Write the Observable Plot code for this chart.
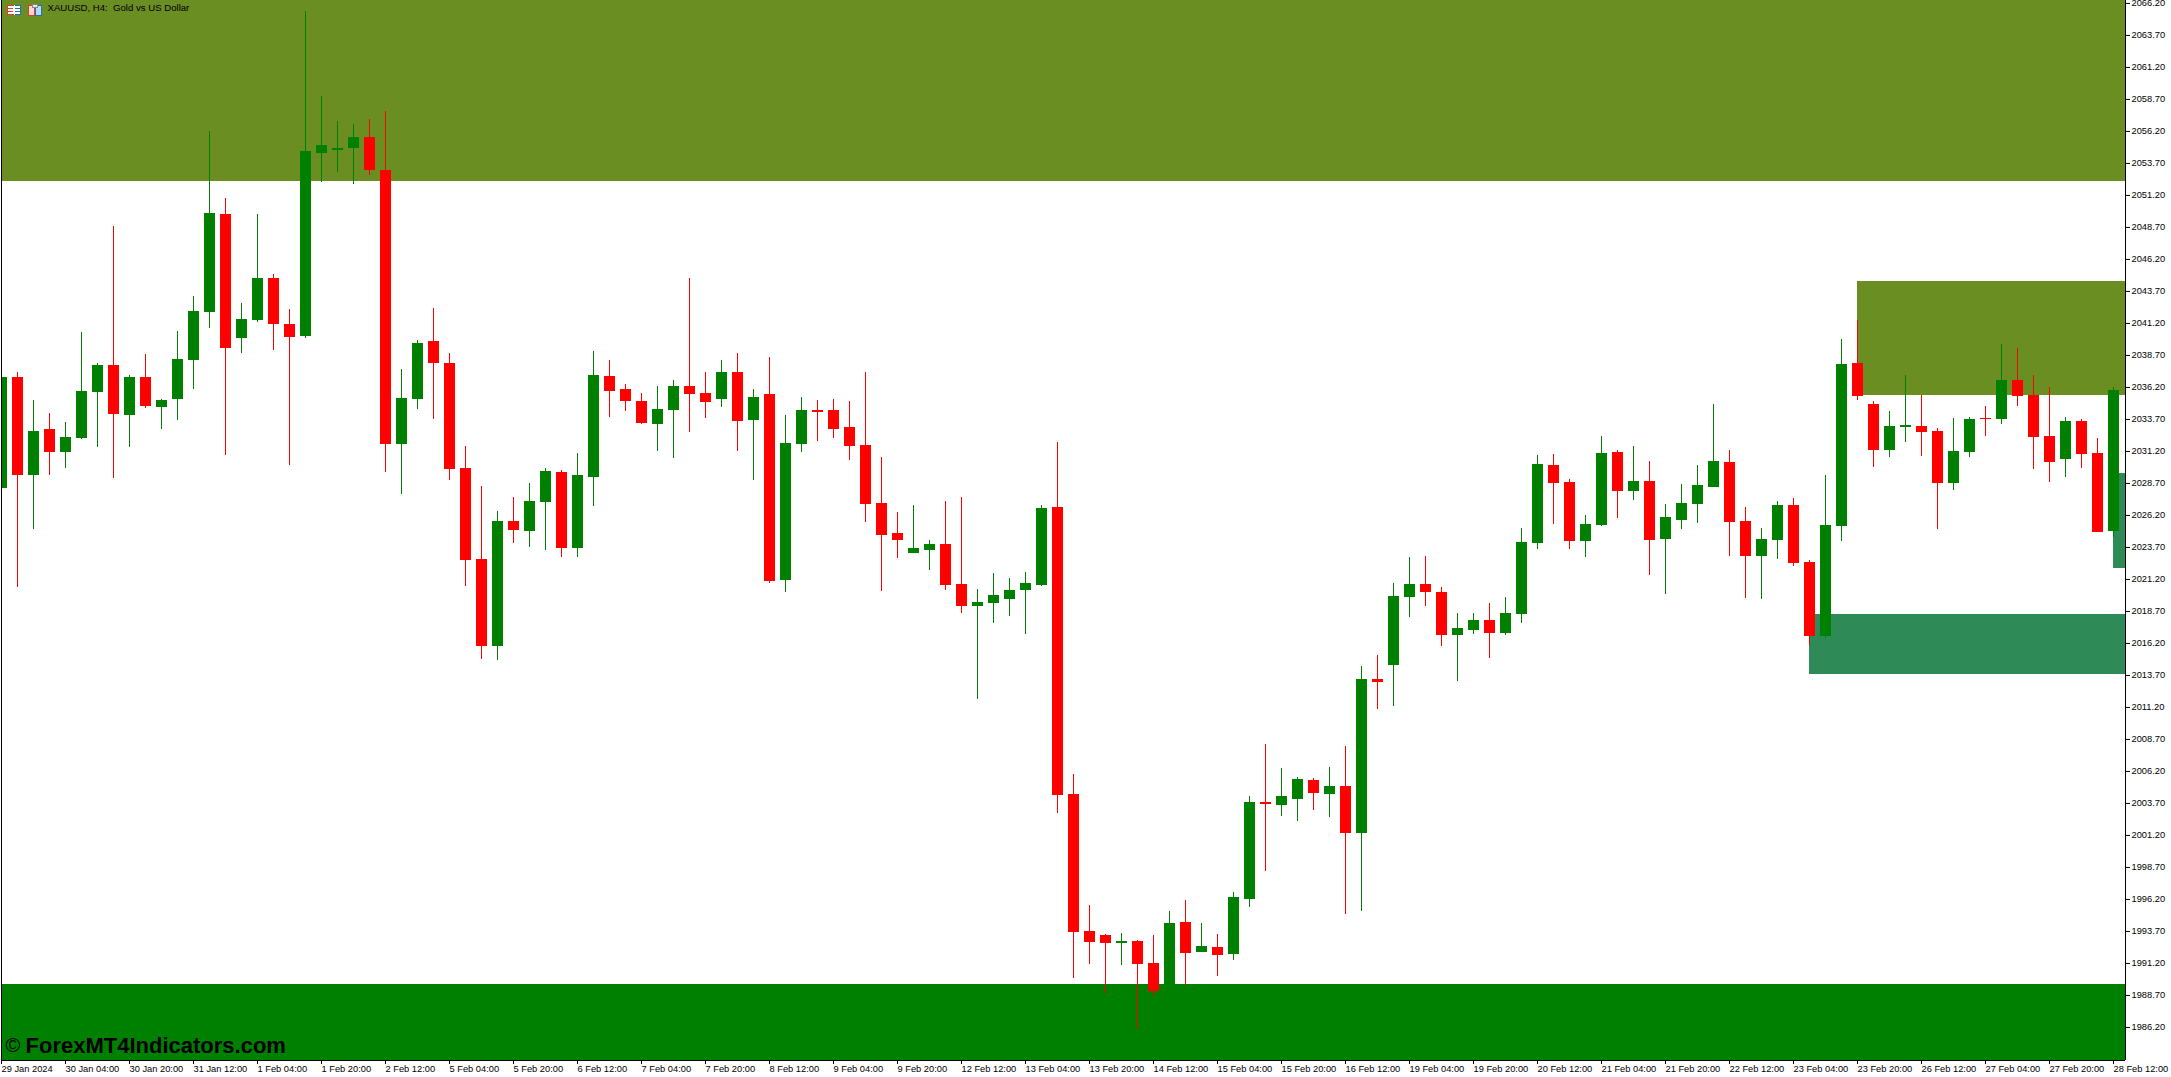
<!DOCTYPE html>
<html>
<head>
<meta charset="utf-8">
<style>
html,body{margin:0;padding:0;background:#fff;overflow:hidden}
#wrap{position:relative;width:2171px;height:1077px}
#wrap svg{display:block}
#icons{position:absolute;left:0;top:0}
</style>
<script src="https://cdn.jsdelivr.net/npm/d3@7"></script>
<script src="https://cdn.jsdelivr.net/npm/@observablehq/plot@0.6"></script>
</head>
<body>
<div id="wrap"></div>
<script>
const chartTitle = "XAUUSD, H4:  Gold vs US Dollar";
const watermark = "ForexMT4Indicators.com";

const open = [
2028.31,2036.97,2029.36,2032.91,2031.13,2032.21,2035.81,2037.91,2034.01,2036.97,
2034.63,2035.25,2038.32,2042.06,2049.72,2040.04,2041.44,2044.72,2041.11,2040.17,
2054.48,2054.70,2054.86,2055.72,2053.14,2031.75,2035.25,2039.80,2038.07,2029.87,
2022.76,2015.96,2025.73,2024.95,2027.21,2029.55,2023.61,2029.16,2037.05,2036.04,
2035.10,2033.30,2034.40,2036.27,2035.72,2035.26,2037.36,2033.61,2035.65,2021.11,
2031.74,2034.40,2034.40,2033.07,2031.66,2027.13,2024.79,2023.22,2023.46,2023.93,
2020.80,2019.08,2019.32,2019.63,2020.33,2020.72,2026.82,2004.40,1993.70,1993.38,
1992.76,1992.92,1991.20,1989.01,1994.40,1992.06,1992.45,1991.90,1996.20,2003.77,
2003.54,2004.01,2005.49,2004.40,2005.02,2001.35,2013.38,2014.48,2019.79,2020.81,
2020.18,2016.82,2017.21,2017.99,2016.98,2018.46,2024.01,2030.10,2028.77,2024.17,
2025.42,2031.12,2028.07,2028.85,2024.32,2025.81,2027.06,2028.38,2030.34,2025.73,
2022.99,2024.24,2026.98,2022.52,2016.74,2025.34,2038.07,2034.87,2031.28,2033.07,
2033.15,2032.76,2028.70,2031.12,2033.78,2033.70,2036.74,2035.57,2032.37,2030.57,
2033.54,2031.04,2024.95];

const high = [
2036.97,2037.37,2035.22,2034.17,2033.47,2040.50,2038.07,2048.78,2037.13,2038.77,
2035.28,2040.58,2043.32,2056.21,2050.96,2042.76,2049.72,2045.02,2042.30,2065.57,
2058.92,2056.99,2056.74,2057.12,2057.77,2037.62,2039.88,2042.38,2038.85,2031.59,
2028.46,2026.51,2027.60,2028.70,2029.86,2029.71,2031.04,2039.01,2038.30,2036.43,
2035.72,2036.27,2036.74,2044.71,2037.36,2038.30,2038.85,2036.04,2038.54,2034.01,
2035.41,2035.18,2035.26,2035.10,2037.36,2030.72,2026.43,2026.97,2024.24,2027.29,
2027.60,2020.41,2021.66,2021.27,2021.74,2026.97,2031.90,2005.96,1995.73,1993.46,
1993.54,1992.99,1993.38,1995.26,1996.12,1994.32,1993.46,1996.74,2004.24,2008.31,
2006.43,2005.73,2005.65,2006.51,2008.15,2014.40,2015.26,2020.88,2022.92,2022.99,
2020.57,2018.54,2018.54,2019.32,2019.79,2025.18,2030.88,2030.96,2029.01,2026.20,
2032.37,2031.27,2031.59,2030.42,2027.06,2028.62,2030.10,2034.87,2031.27,2026.82,
2025.18,2027.29,2027.52,2022.68,2029.32,2039.95,2041.43,2035.10,2034.32,2037.14,
2035.57,2032.99,2033.78,2033.85,2034.71,2039.56,2039.24,2037.14,2036.20,2033.85,
2033.70,2032.21,2036.20];

const low = [
2028.31,2020.57,2025.13,2029.36,2029.90,2032.13,2031.51,2029.09,2031.51,2034.55,
2032.91,2033.61,2036.03,2040.82,2030.89,2038.85,2041.28,2039.10,2030.11,2040.04,
2052.23,2053.01,2052.06,2052.76,2029.55,2027.85,2034.47,2033.69,2028.93,2020.65,
2014.95,2014.87,2024.01,2023.70,2023.46,2022.91,2022.91,2026.90,2033.85,2034.32,
2033.30,2031.19,2030.65,2032.68,2033.77,2034.63,2031.19,2028.93,2020.88,2020.18,
2031.11,2031.97,2032.21,2030.49,2025.65,2020.26,2022.83,2023.22,2021.90,2020.33,
2018.54,2011.82,2017.76,2018.30,2016.90,2020.65,2002.92,1990.02,1991.12,1988.85,
1991.04,1986.01,1988.62,1988.70,1989.48,1992.06,1990.18,1991.43,1995.57,1998.38,
2002.68,2002.29,2003.15,2002.60,1995.02,1995.26,2011.04,2011.27,2018.23,2019.09,
2015.96,2013.23,2016.90,2015.02,2016.82,2017.76,2023.54,2025.49,2023.54,2022.92,
2025.34,2025.96,2027.37,2021.51,2020.02,2025.10,2025.57,2028.38,2022.99,2019.71,
2019.63,2022.76,2022.21,2016.04,2016.59,2024.17,2035.18,2029.95,2030.73,2031.90,
2030.81,2025.10,2028.15,2030.73,2032.37,2033.31,2034.71,2029.79,2028.78,2029.17,
2029.87,2024.87,2024.48];

const close = [
2036.97,2029.36,2032.77,2031.13,2032.29,2035.90,2037.91,2034.09,2036.97,2034.71,
2035.20,2038.40,2042.14,2049.80,2039.26,2041.52,2044.72,2041.11,2040.09,2054.65,
2055.10,2054.86,2055.72,2053.14,2031.75,2035.33,2039.63,2038.07,2029.79,2022.68,
2015.96,2025.73,2025.02,2027.29,2029.63,2023.61,2029.32,2037.13,2035.88,2035.10,
2033.38,2034.47,2036.27,2035.65,2035.02,2037.36,2033.54,2035.41,2021.04,2031.82,
2034.40,2034.24,2032.91,2031.58,2027.05,2024.63,2024.24,2023.61,2023.93,2020.72,
2019.08,2019.40,2019.94,2020.33,2020.88,2026.74,2004.32,1993.62,1992.84,1992.76,
1992.92,1991.12,1989.01,1994.32,1991.98,1992.52,1991.82,1996.35,2003.77,2003.62,
2004.24,2005.57,2004.48,2005.02,2001.35,2013.38,2013.15,2019.87,2020.81,2020.18,
2016.82,2017.37,2017.99,2016.98,2018.54,2024.09,2030.18,2028.70,2024.17,2025.49,
2031.04,2028.07,2028.85,2024.24,2026.04,2027.13,2028.54,2030.42,2025.65,2022.99,
2024.32,2026.98,2022.45,2016.74,2025.41,2037.99,2035.49,2031.28,2033.15,2033.23,
2032.68,2028.70,2031.20,2033.70,2033.70,2036.74,2035.49,2032.29,2030.34,2033.54,
2030.96,2024.87,2035.96];

const xTickBars = d3.range(0, 133, 4);
const xTickLabels = [
"29 Jan 2024","30 Jan 04:00","30 Jan 20:00","31 Jan 12:00","1 Feb 04:00","1 Feb 20:00",
"2 Feb 12:00","5 Feb 04:00","5 Feb 20:00","6 Feb 12:00","7 Feb 04:00","7 Feb 20:00",
"8 Feb 12:00","9 Feb 04:00","9 Feb 20:00","12 Feb 12:00","13 Feb 04:00","13 Feb 20:00",
"14 Feb 12:00","15 Feb 04:00","15 Feb 20:00","16 Feb 12:00","19 Feb 04:00","19 Feb 20:00",
"20 Feb 12:00","21 Feb 04:00","21 Feb 20:00","22 Feb 12:00","23 Feb 04:00","23 Feb 20:00",
"26 Feb 12:00","27 Feb 04:00","27 Feb 20:00","28 Feb 12:00"];
const priceTicks = [
2066.2,2063.7,2061.2,2058.7,2056.2,2053.7,2051.2,2048.7,2046.2,2043.7,2041.2,
2038.7,2036.2,2033.7,2031.2,2028.7,2026.2,2023.7,2021.2,2018.7,2016.2,2013.7,
2011.2,2008.7,2006.2,2003.7,2001.2,1998.7,1996.2,1993.7,1991.2,1988.7,1986.2];

const priceMin = 1983.62, priceMax = 2066.43;
const lastEdge = 132.75;
// supply/demand zones: first bar, last edge, bottom price, top price, colour
const zones = [
  {a:0,   b:lastEdge, lo:2052.29, hi:priceMax, c:"#6b8e23"},
  {a:116, b:lastEdge, lo:2035.57, hi:2044.48,  c:"#6b8e23"},
  {a:113, b:lastEdge, lo:2013.77, hi:2018.46,  c:"#2e8b57"},
  {a:132, b:lastEdge, lo:2022.06, hi:2029.48,  c:"#2e8b57"},
  {a:0,   b:lastEdge, lo:priceMin, hi:1989.55, c:"#008000"}
];

const bars = open.map((o,i)=>({i, o, h:high[i], l:low[i], c:close[i], col: close[i]>=o ? "#008000" : "#ff0000"}));
const halfBody = 5.5/16;
const font = "Liberation Sans";

const chart = Plot.plot({
  width:2171, height:1077,
  marginLeft:2, marginRight:46, marginTop:0, marginBottom:17,
  style:{background:"#fff", fontFamily:font},
  x:{type:"linear", domain:[0,132], range:[1,2113], axis:null},
  y:{type:"linear", domain:[priceMin,priceMax], range:[1060,0], axis:null},
  color:{type:"identity"},
  marks:[
    Plot.rect(zones,{x1:"a",x2:"b",y1:"lo",y2:"hi",fill:"c",shapeRendering:"crispEdges"}),
    Plot.ruleX(bars,{x:"i",y1:"l",y2:"h",stroke:"col",strokeWidth:1,clip:true,shapeRendering:"crispEdges"}),
    Plot.rect(bars,{x1:d=>d.i-halfBody,x2:d=>d.i+halfBody,y1:"o",y2:"c",fill:"col",clip:true,shapeRendering:"crispEdges"}),
    Plot.ruleX([lastEdge],{stroke:"#000",strokeWidth:1,shapeRendering:"crispEdges"}),
    Plot.ruleX([0],{stroke:"#000",strokeWidth:1,shapeRendering:"crispEdges"}),
    Plot.ruleY([priceMin],{stroke:"#000",strokeWidth:1,shapeRendering:"crispEdges"}),
    Plot.axisY({anchor:"right",ticks:priceTicks,tickFormat:d=>d.toFixed(2),tickSize:4,tickPadding:2,fontSize:9.3,label:null,stroke:"#000",color:"#000",fill:"#000"}),
    Plot.axisX({anchor:"bottom",ticks:xTickBars,tickFormat:(d,k)=>xTickLabels[xTickBars.indexOf(d)],tickSize:4,tickPadding:1,textAnchor:"start",fontSize:9.3,label:null,fill:"#000",stroke:"#000"}),
    Plot.text([chartTitle],{frameAnchor:"top-left",dx:45,dy:4,lineAnchor:"top",fontSize:9.6,fill:"#000",fontFamily:font}),
    Plot.text(["©"],{frameAnchor:"bottom-left",dx:3,dy:-9,lineAnchor:"bottom",fontSize:20,fill:"#000",fontFamily:font}),
    Plot.text([watermark],{frameAnchor:"bottom-left",dx:23,dy:-8,lineAnchor:"bottom",fontSize:22,fontWeight:"bold",fill:"#000",fontFamily:font})
  ]
});
document.getElementById("wrap").appendChild(chart);

// small toolbar glyphs of the platform's chart title
document.getElementById("wrap").insertAdjacentHTML("beforeend",`
<svg id="icons" width="46" height="18" shape-rendering="crispEdges">
 <rect x="7" y="5" width="14" height="10" fill="#fff"/>
 <path d="M13.5 5.5H7.5V14.5H13.5M8 8.5H13M8 11.5H13" fill="none" stroke="#e8392b"/>
 <path d="M14.5 5.5H20.5V14.5H14.5M15 8.5H20M15 11.5H20" fill="none" stroke="#1f6fc0"/>
 <rect x="28" y="5" width="6" height="10" fill="#ffd8d0" stroke="#e8392b"/>
 <rect x="35" y="5" width="6" height="10" fill="#b8dcf5" stroke="#1f6fc0"/>
 <rect x="32" y="4" width="5" height="3" fill="#e8e8e8" stroke="#888"/>
</svg>`);
</script>
</body>
</html>
